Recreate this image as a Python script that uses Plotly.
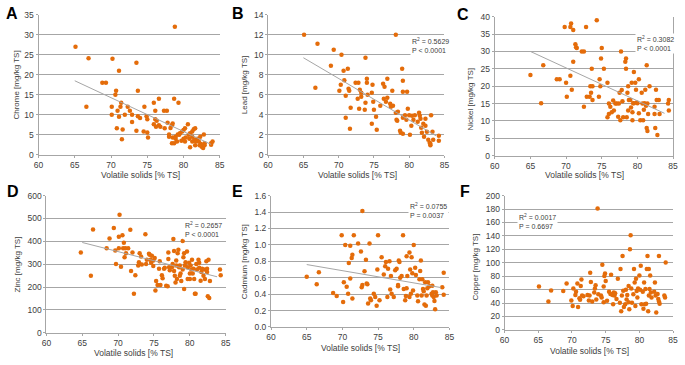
import plotly.graph_objects as go

# ---------------- data ----------------
vs_chrome = [65.1,66.9,70.2,73.5,71.1,68.8,69.3,78.8,73.7,70.7,70.6,66.6,71.4,70.1,71.3,72.3,72.6,70.9,70.1,71.1,
             71.9,72.9,73.7,74.0,74.6,74.9,75.0,70.8,71.6,71.5,72.9,73.5,74.5,75.0,75.1,75.9,75.9,76.1,76.6,76.1,
             76.3,76.6,76.2,76.8,77.4,77.3,77.7,77.8,78.0,78.0,78.2,78.4,78.5,78.7,79.3,78.4,78.7,78.5,78.9,79.2,
             79.4,79.5,79.8,80.0,80.2,79.7,80.0,80.3,80.6,80.7,80.9,80.9,81.2,81.2,81.4,81.6,81.5,81.7,81.9,82.1,
             82.3,82.5,82.7,82.8,82.9,82.9,82.4,82.2,83.8,83.8,84.0,81.6,81.2,80.8,80.2,78.9,79.1]
chrome = [27.0,24.1,24.0,23.0,21.0,18.0,18.0,32.0,16.0,16.0,15.0,12.0,13.0,12.0,12.0,12.0,11.0,11.0,10.0,9.5,
          10.0,10.0,9.6,9.2,12.0,9.6,8.9,6.6,6.3,3.9,8.2,6.0,5.8,5.6,4.3,7.6,13.0,11.0,14.0,8.9,
          8.5,7.4,7.0,7.0,6.6,11.0,11.0,8.0,5.1,4.5,6.7,7.4,7.8,14.0,13.0,2.9,2.9,4.3,4.5,5.1,
          5.0,5.4,5.8,6.2,6.6,3.5,4.0,4.3,7.6,5.0,5.4,1.9,4.5,5.8,6.4,6.6,3.8,3.3,4.0,3.3,
          4.5,2.0,1.7,5.1,2.9,2.4,2.7,2.4,2.9,2.5,3.3,2.4,3.3,4.0,3.3,4.0,3.3]

vs_lead = [65.1,78.1,67.0,69.3,70.4,73.8,68.9,71.3,70.7,66.7,70.3,70.1,70.8,71.0,71.0,71.6,71.4,71.5,71.7,72.4,
           72.8,73.0,73.2,72.7,73.2,72.9,73.7,74.0,74.0,73.8,74.1,74.8,74.7,74.9,75.0,75.3,75.4,74.7,75.9,76.3,
           76.5,76.4,76.7,76.9,76.9,77.3,77.4,77.6,77.7,78.1,78.4,78.2,78.3,79.0,79.1,79.1,79.7,78.7,78.8,79.1,
           79.1,79.4,79.6,79.8,80.0,80.1,80.3,80.4,80.6,80.8,81.2,81.4,81.5,81.6,81.7,81.8,82.0,82.1,82.3,82.3,
           82.5,82.7,82.9,83.0,83.1,83.3,83.4,83.0,84.2,84.2]
lead = [12.0,12.0,11.1,10.5,10.0,9.7,8.9,8.6,8.4,6.7,7.0,6.4,7.45,5.9,3.7,2.6,6.6,6.4,4.7,7.2,
        7.2,6.5,6.2,5.6,5.8,4.6,4.5,7.2,7.6,5.2,6.0,7.0,6.2,5.3,4.5,3.8,2.5,3.1,4.9,7.1,
        6.8,5.6,5.3,5.7,7.6,5.1,4.8,6.4,4.9,4.2,4.3,3.5,3.4,8.6,7.4,6.3,6.3,2.4,2.2,2.1,
        3.7,3.95,3.5,4.6,3.95,2.0,2.9,3.9,3.5,3.95,3.3,4.2,3.9,3.6,2.7,2.2,3.1,1.8,3.6,2.9,
        2.3,1.5,1.2,0.95,3.95,2.3,1.5,1.1,1.9,1.4]

vs_nickel = [65.0,66.8,66.5,68.7,69.1,69.8,70.6,70.7,71.0,71.3,71.4,71.5,72.2,72.5,72.8,74.3,71.0,70.0,70.1,70.6,
             70.8,72.5,72.9,73.3,73.4,73.7,73.5,73.6,73.7,74.6,74.7,74.9,75.0,74.8,75.3,75.8,76.0,75.8,76.2,76.0,
             76.4,76.6,76.7,76.9,77.1,77.3,77.4,77.5,77.6,77.7,77.8,77.9,78.0,78.3,78.4,78.4,78.5,78.6,78.7,78.7,
             78.8,79.0,79.1,79.2,79.3,79.3,79.4,79.5,79.5,79.7,79.8,79.9,80.0,80.2,80.2,80.4,80.6,80.7,80.8,80.9,
             81.0,81.1,81.2,81.3,81.3,81.4,81.4,81.5,81.7,82.4,82.4,82.5,82.6,82.7,82.8,83.0,83.1,84.4,84.3,84.4]
nickel = [23.2,26.0,15.1,22.0,22.0,37.0,37.0,38.0,36.2,32.1,31.2,31.0,30.0,30.0,37.0,39.0,27.0,21.0,17.0,23.0,
          19.0,14.1,17.0,17.0,20.0,20.0,18.1,25.0,16.0,17.0,22.0,28.0,31.0,20.0,25.0,21.0,15.0,11.1,14.1,12.0,
          12.5,15.9,13.0,15.0,15.0,11.2,15.0,18.1,10.2,30.0,18.9,15.7,11.1,27.0,28.0,25.0,11.1,18.1,20.0,13.0,
          16.0,16.0,13.9,21.0,12.5,10.2,15.1,24.1,15.1,21.0,19.0,15.3,15.1,22.0,12.2,10.2,18.1,15.0,10.2,13.2,
          15.1,19.0,14.4,8.0,26.0,15.0,7.1,12.0,20.0,12.0,14.1,8.0,19.0,16.0,6.0,16.0,12.0,16.0,15.0,13.0]

vs_zinc = [64.8,66.2,66.5,68.4,68.8,69.4,69.6,69.7,70.1,70.1,70.2,70.4,70.6,70.7,70.8,70.9,71.0,71.1,71.4,71.7,
           71.8,72.0,72.2,72.4,72.8,72.9,73.0,73.2,73.3,73.8,74.0,73.9,74.3,74.4,74.5,74.6,74.7,74.9,74.9,75.1,
           75.3,75.2,75.5,75.7,75.8,75.9,76.1,76.2,76.4,76.5,76.7,76.9,77.0,77.0,77.1,77.2,77.5,77.6,77.7,77.8,
           77.8,77.9,78.0,78.1,78.1,78.2,78.3,78.4,78.5,78.6,78.6,78.7,78.8,79.0,79.0,79.1,79.2,79.2,79.3,79.4,
           79.6,79.7,79.7,79.9,80.0,80.0,80.1,80.2,80.3,80.4,80.5,80.6,80.7,80.8,80.9,81.0,81.2,81.3,81.3,81.5,
           81.6,81.7,82.5,82.7,81.9,82.0,82.1,82.3,82.4,82.4,84.2,84.3,82.8,82.6]
zinc = [351,249,452,370,412,458,360,301,420,370,516,289,427,370,394,330,370,348,370,451,
        270,351,171,252,294,309,348,334,299,431,320,301,346,341,320,306,337,292,316,327,
        226,185,209,280,313,209,252,239,280,284,206,203,351,323,287,274,287,301,410,358,
        270,249,220,316,294,235,348,363,287,249,294,259,226,401,277,330,348,192,294,309,
        356,235,287,306,259,235,294,277,320,259,280,235,171,171,301,277,320,284,306,228,
        266,280,160,152,249,277,235,313,266,280,277,252,226,320]

vs_cadmium = [65.0,66.4,66.7,68.7,69.2,69.9,70.1,70.2,70.4,70.6,70.8,70.9,71.1,71.1,71.3,71.4,71.6,71.4,72.2,72.6,
              72.7,72.8,72.8,73.1,73.3,73.4,73.5,73.6,73.8,73.9,74.0,74.4,74.6,74.8,74.9,75.0,75.2,75.5,75.8,76.0,
              76.1,76.3,76.4,76.6,76.7,76.8,76.9,77.2,77.4,77.6,77.8,77.8,77.9,78.0,78.1,78.3,78.5,78.6,78.8,78.9,
              79.0,79.0,79.1,79.4,79.4,79.5,79.6,79.7,79.8,79.9,80.0,80.2,80.3,80.5,80.6,80.8,80.9,81.0,81.1,81.2,
              81.3,81.4,81.5,81.6,81.7,81.8,81.9,82.0,82.2,82.5,82.6,82.7,82.8,82.9,83.0,83.1,83.2,84.0,84.2,84.2,82.6]
cadmium = [0.61,0.52,0.665,0.415,0.376,1.117,0.305,0.543,0.998,0.491,0.404,0.78,0.99,0.59,0.84,0.88,1.117,0.345,1.018,0.919,
           0.483,0.51,1.414,0.68,0.82,0.53,0.52,0.285,1.018,0.345,0.325,0.404,0.364,0.257,0.70,1.117,0.325,0.85,0.64,0.74,
           0.79,0.364,0.71,0.80,0.455,0.62,0.404,0.364,0.69,0.71,0.495,0.51,0.81,0.79,0.60,0.62,1.117,0.463,0.325,0.376,
           0.86,0.471,0.62,0.907,0.364,0.70,0.404,0.85,0.653,0.444,0.998,0.72,0.634,0.384,0.313,0.582,0.681,0.81,0.384,0.582,
           0.463,0.436,0.273,0.543,0.257,0.384,0.471,0.543,0.495,0.404,0.384,0.424,0.364,0.317,0.214,0.424,0.384,0.483,0.66,0.392,0.503]

vs_copper = [65.1,66.5,66.9,68.7,69.2,69.9,70.1,70.2,70.5,70.6,70.8,70.9,71.1,71.2,71.3,71.4,71.5,71.7,72.3,72.5,
             72.6,72.7,72.8,73.0,73.3,73.4,73.5,73.6,73.8,73.9,74.3,74.4,74.5,74.7,74.7,74.8,74.9,75.0,75.2,75.5,
             75.7,75.8,76.0,76.1,76.2,76.3,76.4,76.6,76.8,77.1,77.2,77.3,77.4,77.5,77.6,77.7,77.9,78.0,78.1,78.2,
             78.4,78.4,78.5,78.6,78.7,78.8,78.9,79.1,79.2,79.3,79.4,79.5,79.6,79.7,79.8,80.0,80.1,80.2,80.3,80.5,
             80.6,80.7,80.8,80.9,81.0,81.1,81.2,81.3,81.4,81.4,81.5,81.6,81.7,81.8,82.2,82.3,82.4,82.5,82.7,82.8,
             82.9,82.9,83.0,83.7,83.8,83.9]
copper = [64.6,42.2,58.7,57.8,68.9,43.7,35.4,61.7,51.9,56.8,68.9,34.0,47.1,44.7,65.5,75.2,51.0,50.0,51.9,43.7,
          51.0,84.9,71.4,42.2,55.8,61.7,66.5,45.1,181.0,52.9,51.0,48.1,97.1,41.3,64.6,80.1,84.0,72.8,43.2,56.8,
          53.4,82.0,51.9,38.3,55.8,51.0,54.4,46.1,76.2,40.3,90.8,27.7,51.0,110.0,58.3,34.0,38.3,59.7,45.1,51.9,
          65.5,41.3,30.6,120.0,141.0,61.7,40.3,52.9,90.8,70.4,35.4,76.2,57.8,48.1,61.7,81.1,59.7,95.6,38.3,56.8,
          31.6,70.4,38.3,60.7,38.8,90.8,110.0,27.7,90.8,51.0,60.7,81.1,55.8,48.1,56.8,70.4,51.0,25.7,53.4,46.1,
          110.0,42.2,38.8,51.0,48.1,100.5]

# trend lines (end points)
trend_x = [65.0, 83.8]
trend_chrome = [18.5, 2.6]
trend_lead = [9.7, 1.9]
trend_nickel = [30.0, 12.2]
trend_zinc = [395, 245]
trend_cadmium = [0.76, 0.48]

panel_letters = ["A", "B", "C", "D", "E", "F"]
y_titles = ["Chrome [mg/kg TS]", "Lead [mg/kg TS]", "Nickel [mg/kg TS]",
            "Zinc [mg/kg TS]", "Cadmium [mg/kg TS]", "Copper [mg/kg TS]"]
x_title = "Volatile solids [% TS]"
stats_text = [None, "R<sup>2</sup> = 0.5629<br>P < 0.0001", "R<sup>2</sup> = 0.3082<br>P < 0.0001",
              "R<sup>2</sup> = 0.2657<br>P < 0.0001", "R<sup>2</sup> = 0.0755<br>P = 0.0037",
              "R<sup>2</sup> = 0.0017<br>P = 0.6697"]
stats_pos = [None, (80.1, 10.9), (79.6, 32.2), (79.0, 453), (79.2, 1.42), (61.9, 162)]
y_ranges = [(0, 35, 5), (0, 14, 2), (0, 40, 5), (0, 600, 100), (0, 1.6, 0.2), (0, 200, 20)]
x_range = (60, 85, 5)

xs = [vs_chrome, vs_lead, vs_nickel, vs_zinc, vs_cadmium, vs_copper]
ys = [chrome, lead, nickel, zinc, cadmium, copper]
trends = [trend_chrome, trend_lead, trend_nickel, trend_zinc, trend_cadmium, None]

# ---------------- layout geometry (pixels of 685x365 canvas) ----------------
W, H = 685, 365
boxes = [  # left, right, top, bottom (px)
    (34, 218, 10, 154),
    (267, 446, 10, 154),
    (497, 678, 12, 155),
    (42, 224, 196, 337),
    (270, 451, 196, 331),
    (507, 678, 196, 334),
]
letter_px = [(7, 9), (236, 9), (465, 10), (8, 192), (236, 192), (467, 192)]
xtitle_px = [(138, 175), (358, 175), (588, 175), (130, 358), (361, 353), (593, 356)]
ytitle_px = [(12, 82), (243, 82), (472, 97), (13, 267), (243, 264), (478, 270)]

ORANGE = "#E46C0A"
GRID = "#A6A6A6"
TXT = "#404040"
FONT = "Liberation Sans"

fig = go.Figure()
layout = dict(
    width=W, height=H, margin=dict(l=0, r=0, t=0, b=0),
    paper_bgcolor="white", plot_bgcolor="white", showlegend=False,
    font=dict(family=FONT, size=8, color=TXT),
)
annotations = []
for i in range(6):
    n = "" if i == 0 else str(i + 1)
    l, r, t, b = boxes[i]
    y0, y1, dy = y_ranges[i]
    layout["xaxis" + n] = dict(
        domain=[l / W, r / W], range=[x_range[0], x_range[1]], dtick=x_range[2], tick0=60,
        showgrid=False, showline=True, linecolor=GRID, linewidth=1, zeroline=False,
        ticks="outside", ticklen=2, tickcolor=GRID, tickfont=dict(size=8.5, color=TXT, family=FONT),
        ticklabeloverflow="allow",
        anchor="y" + n, fixedrange=True,
    )
    layout["yaxis" + n] = dict(
        domain=[1 - b / H, 1 - t / H], range=[y0, y1], dtick=dy, tick0=0,
        showgrid=True, gridcolor=GRID, gridwidth=1, showline=True, linecolor=GRID, linewidth=1,
        mirror=(i == 2), zeroline=False, ticks="outside", ticklen=2, tickcolor=GRID,
        tickformat=".1f" if i == 4 else None,
        tickfont=dict(size=8.5, color=TXT, family=FONT),
        anchor="x" + n, fixedrange=True,
    )
    fig.add_trace(go.Scatter(
        x=xs[i], y=ys[i], mode="markers", xaxis="x" + n, yaxis="y" + n,
        marker=dict(color=ORANGE, size=4.5, symbol="circle", line=dict(width=0)),
        cliponaxis=False,
    ))
    if trends[i] is not None:
        fig.add_trace(go.Scatter(
            x=trend_x, y=trends[i], mode="lines", xaxis="x" + n, yaxis="y" + n,
            line=dict(color="#A6A6A6", width=1),
        ))
    if stats_text[i]:
        sx, sy = stats_pos[i]
        annotations.append(dict(
            x=sx, y=sy, xref="x" + n, yref="y" + n, text=stats_text[i], showarrow=False,
            xanchor="left", yanchor="middle", align="left", bgcolor="white",
            font=dict(size=7, color=TXT, family=FONT), borderpad=1,
        ))
    lx, ly = letter_px[i]
    annotations.append(dict(
        x=lx / W, y=1 - ly / H, xref="paper", yref="paper", text="<b>%s</b>" % panel_letters[i],
        showarrow=False, xanchor="center", yanchor="middle",
        font=dict(size=16, color="black", family="Liberation Sans"),
    ))
    tx, ty = xtitle_px[i]
    annotations.append(dict(
        x=tx / W, y=1 - ty / H, xref="paper", yref="paper", text=x_title,
        showarrow=False, xanchor="center", yanchor="middle",
        font=dict(size=8.5, color=TXT, family=FONT),
    ))
    yx, yy = ytitle_px[i]
    annotations.append(dict(
        x=yx / W, y=1 - yy / H, xref="paper", yref="paper", text=y_titles[i], textangle=-90,
        showarrow=False, xanchor="center", yanchor="middle",
        font=dict(size=8, color=TXT, family=FONT),
    ))

layout["annotations"] = annotations
fig.update_layout(**layout)
fig.write_html(
    "out.html",
    config={"displayModeBar": False, "staticPlot": True},
    post_script="document.body.style.margin='0';document.body.style.overflow='hidden';",
)
